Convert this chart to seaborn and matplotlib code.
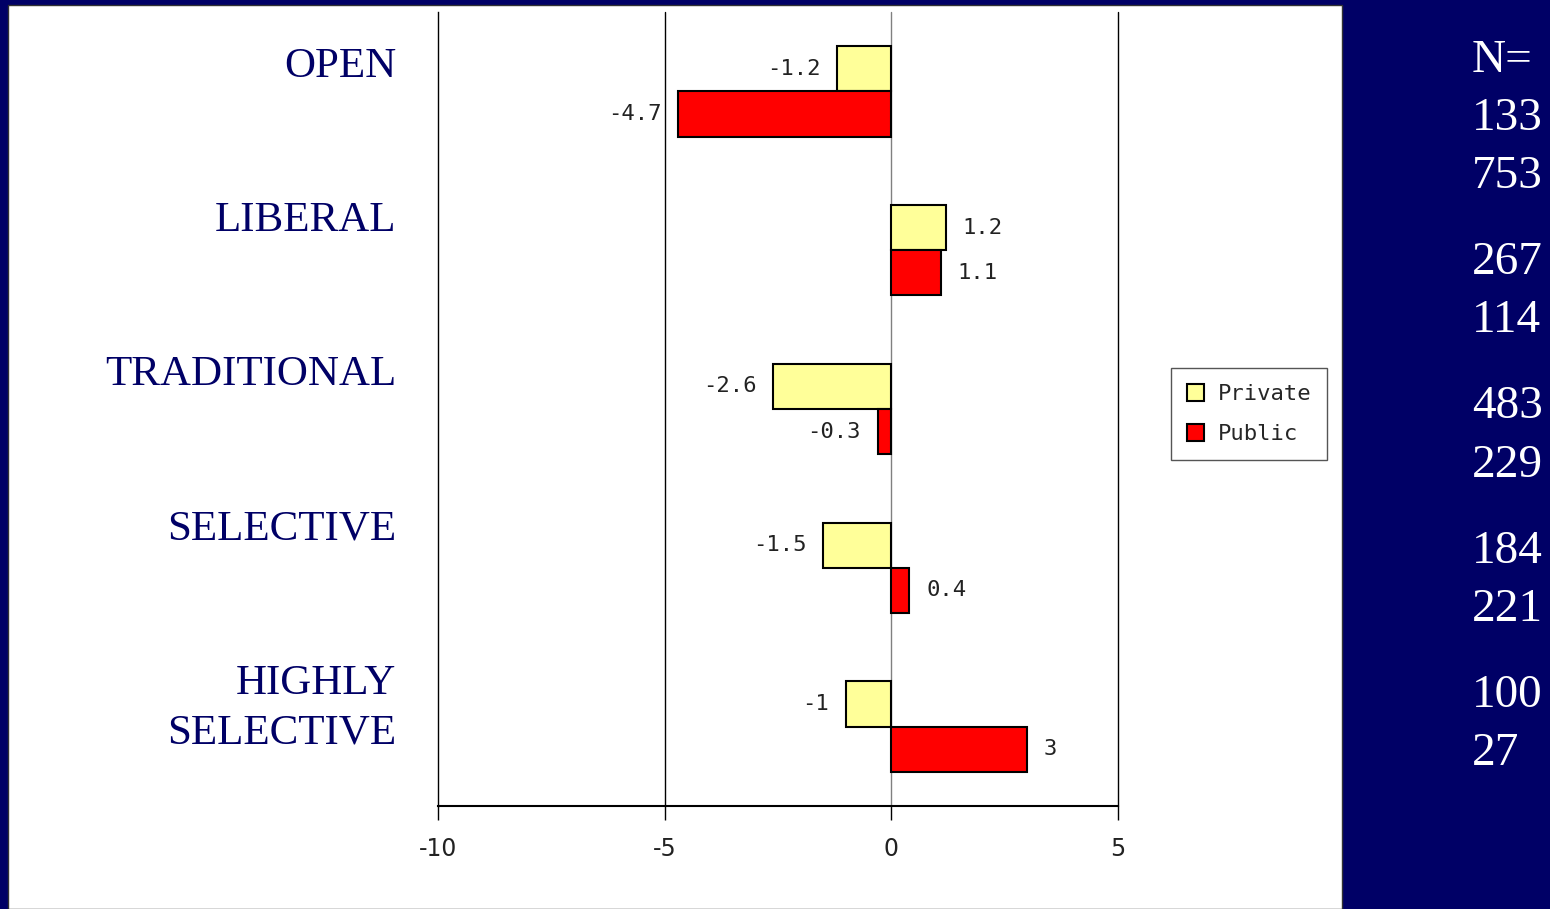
import matplotlib
matplotlib.use("Agg")
import matplotlib.pyplot as plt
from matplotlib.patches import Rectangle, Patch
from matplotlib.ticker import FixedLocator, FuncFormatter
import seaborn as sns
import pandas as pd

# ---- data ----
categories = ["OPEN", "LIBERAL", "TRADITIONAL", "SELECTIVE", "HIGHLY\nSELECTIVE"]
groups = ["Private", "Public"]
private_vals = [-1.2, 1.2, -2.6, -1.5, -1.0]
public_vals = [-4.7, 1.1, -0.3, 0.4, 3.0]
n_private = [133, 267, 483, 184, 100]
n_public = [753, 114, 229, 221, 27]
x_ticks = [-10, -5, 0, 5]

NAVY = "#000066"
COLORS = {"Private": "#FFFF99", "Public": "#FF0000"}

df = pd.DataFrame({
    "category": categories * 2,
    "group": ["Private"] * len(categories) + ["Public"] * len(categories),
    "value": private_vals + public_vals,
})

sns.set_theme(style="white")
plt.rcParams["font.family"] = ["DejaVu Sans"]

W, H = 1550, 909
fig = plt.figure(figsize=(W / 100, H / 100), dpi=100, facecolor=NAVY)

# white slide panel
fig.patches.append(Rectangle((8 / W, 0), (1342 - 8) / W, 1 - 5 / H,
                             transform=fig.transFigure, facecolor="white",
                             edgecolor="#333333", linewidth=1.0, zorder=-5))

ax = fig.add_axes([438 / W, 1 - 806 / H, (1118 - 438) / W, (806 - 12) / H])
ax.set_facecolor("none")
ax.set_zorder(2)

sns.barplot(data=df, y="category", x="value", hue="group", hue_order=groups,
            order=categories, palette=COLORS, saturation=1, orient="h", width=0.57,
            errorbar=None, edgecolor="black", linewidth=1.5, ax=ax, legend=False,
            zorder=3)

ax.set_xlim(-10, 5)
ax.set_ylim(len(categories) - 0.5, -0.5)
ax.set_xlabel("")
ax.set_ylabel("")
ax.set_yticks([])

# vertical gridlines
for t in x_ticks[1:]:
    ax.axvline(t, color="#808080" if t == 0 else "black", linewidth=1.0,
               zorder=1, clip_on=False)

for s in ["top", "right"]:
    ax.spines[s].set_visible(False)
ax.spines["left"].set_color("black")
ax.spines["left"].set_linewidth(1.0)
ax.spines["bottom"].set_color("black")
ax.spines["bottom"].set_linewidth(1.5)

ax.xaxis.set_major_locator(FixedLocator(x_ticks))
ax.xaxis.set_major_formatter(FuncFormatter(lambda v, p: f"{v:g}".replace("−", "-")))
ax.tick_params(axis="x", direction="out", length=10, width=1.0, color="black",
               pad=12, labelsize=17, labelcolor="#222222", bottom=True)

# value labels
for cont, vals in zip(ax.containers, [private_vals, public_vals]):
    ax.bar_label(cont, labels=[f"{v:g}" for v in vals], padding=12,
                 fontsize=16, family="DejaVu Sans Mono", color="#222222")

# category labels (slide text boxes, evenly spaced; baseline of last line)
for i, c in enumerate(categories):
    n_lines = c.count("\n") + 1
    fig.text(396 / W, 1 - (77 + 154 * i + 50 * (n_lines - 1)) / H, c,
             ha="right", va="baseline", multialignment="right", fontsize=31,
             family="Liberation Serif", color=NAVY, linespacing=1.34)

# legend
handles = [Patch(facecolor=COLORS[g], edgecolor="black", linewidth=1.5) for g in groups]
fig.legend(handles, groups, loc="upper left",
           bbox_to_anchor=(1171 / W, 1 - 368 / H), bbox_transform=fig.transFigure,
           borderaxespad=0, frameon=True, fancybox=False, edgecolor="#555555",
           framealpha=1, prop={"family": "DejaVu Sans Mono", "size": 16},
           handlelength=0.8, handleheight=0.8, handletextpad=0.6,
           labelspacing=0.9, borderpad=0.7)

# N= column
fig.text(1472 / W, 1 - 72 / H, "N=", ha="left", va="baseline", color="white",
         fontsize=34, family="Liberation Serif")
for i, (a, b) in enumerate(zip(n_private, n_public)):
    y1 = 130 + i * 144.25
    fig.text(1472 / W, 1 - y1 / H, str(a), ha="left", va="baseline",
             color="white", fontsize=34, family="Liberation Serif")
    fig.text(1472 / W, 1 - (y1 + 58) / H, str(b), ha="left", va="baseline",
             color="white", fontsize=34, family="Liberation Serif")

fig.savefig("out.png", dpi=100, facecolor=NAVY)
